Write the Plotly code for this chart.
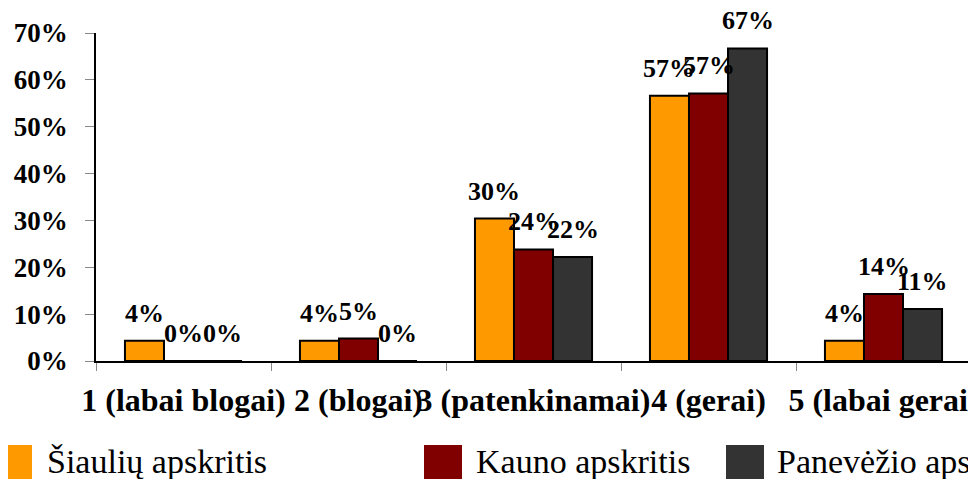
import plotly.graph_objects as go

# ratings and share of answers per county
categories = ['1 (labai blogai)', '2 (blogai)', '3 (patenkinamai)', '4 (gerai)', '5 (labai gerai)']
series_names = ['Šiaulių apskritis', 'Kauno apskritis', 'Panevėžio apskritis']
siauliu = [0.043, 0.043, 0.304, 0.566, 0.043]
kauno = [0.0, 0.048, 0.238, 0.571, 0.143]
panevezio = [0.0, 0.0, 0.222, 0.667, 0.111]
colors = ['#FF9900', '#800000', '#333333']

FONT = 'Liberation Serif'
OFF = 8  # page body margin
W, H = 976 - OFF, 479 - OFF
# plot area in page pixels: x 96..971, y 33..361
L, R, T, B = 96 - OFF, 976 - 971, 33 - OFF, 479 - 361
pw, ph = W - L - R, H - T - B


def px_x(x):
    return (x - OFF - L) / pw


def px_y(y):
    return (H - B - (y - OFF)) / ph


fig = go.Figure()
all_vals = [siauliu, kauno, panevezio]
for name, vals, col in zip(series_names, all_vals, colors):
    fig.add_trace(go.Bar(x=categories, y=vals, name=name,
                         marker=dict(color=col, line=dict(color='black', width=2)),
                         showlegend=False))

# value labels above bars
bar_px = pw / len(categories) * (1 - 0.331) / 3
ann = []
for j, vals in enumerate(all_vals):
    for c, v in zip(categories, vals):
        ann.append(dict(x=c, y=v, text=f'<b>{v:.0%}</b>', showarrow=False,
                        xshift=(j - 1) * bar_px, yshift=11, yanchor='bottom',
                        font=dict(family=FONT, size=26, color='black')))

# legend drawn by hand, Excel style big swatches
legend_pos = [(-6, 45), (424, 474), (726, 775)]
shapes = []
for (sx, tx), name, col in zip(legend_pos, series_names, colors):
    shapes.append(dict(type='rect', xref='paper', yref='paper',
                       x0=px_x(sx), x1=px_x(sx + 38), y0=px_y(445), y1=px_y(485),
                       fillcolor=col, line=dict(width=0)))
    ann.append(dict(xref='paper', yref='paper', x=px_x(tx), y=px_y(461),
                    xanchor='left', yanchor='middle', text=name, showarrow=False,
                    font=dict(family=FONT, size=34, color='black')))

fig.update_layout(
    width=W, height=H,
    margin=dict(l=L, r=R, t=T, b=B, autoexpand=False),
    paper_bgcolor='white', plot_bgcolor='white',
    barmode='group', bargap=0.331, bargroupgap=0,
    annotations=ann, shapes=shapes,
    showlegend=False,
)
fig.update_xaxes(showline=True, linecolor='black', linewidth=1.5,
                 ticks='outside', tickson='boundaries', ticklen=8, tickcolor='#888888',
                 tickangle=0, showgrid=False, automargin=False,
                 ticklabelstandoff=10,
                 tickprefix='<b>', ticksuffix='</b>',
                 tickfont=dict(family=FONT, size=32, color='black'))
fig.update_yaxes(range=[0, 0.7], dtick=0.1, tickformat='.0%',
                 showline=True, linecolor='black', linewidth=1.5,
                 ticks='outside', ticklen=9, tickcolor='#888888', showgrid=False,
                 zeroline=False, automargin=False, ticklabelstandoff=12,
                 tickprefix='<b>', ticksuffix='</b>',
                 tickfont=dict(family=FONT, size=27, color='black'))

fig.write_html('out.html')
